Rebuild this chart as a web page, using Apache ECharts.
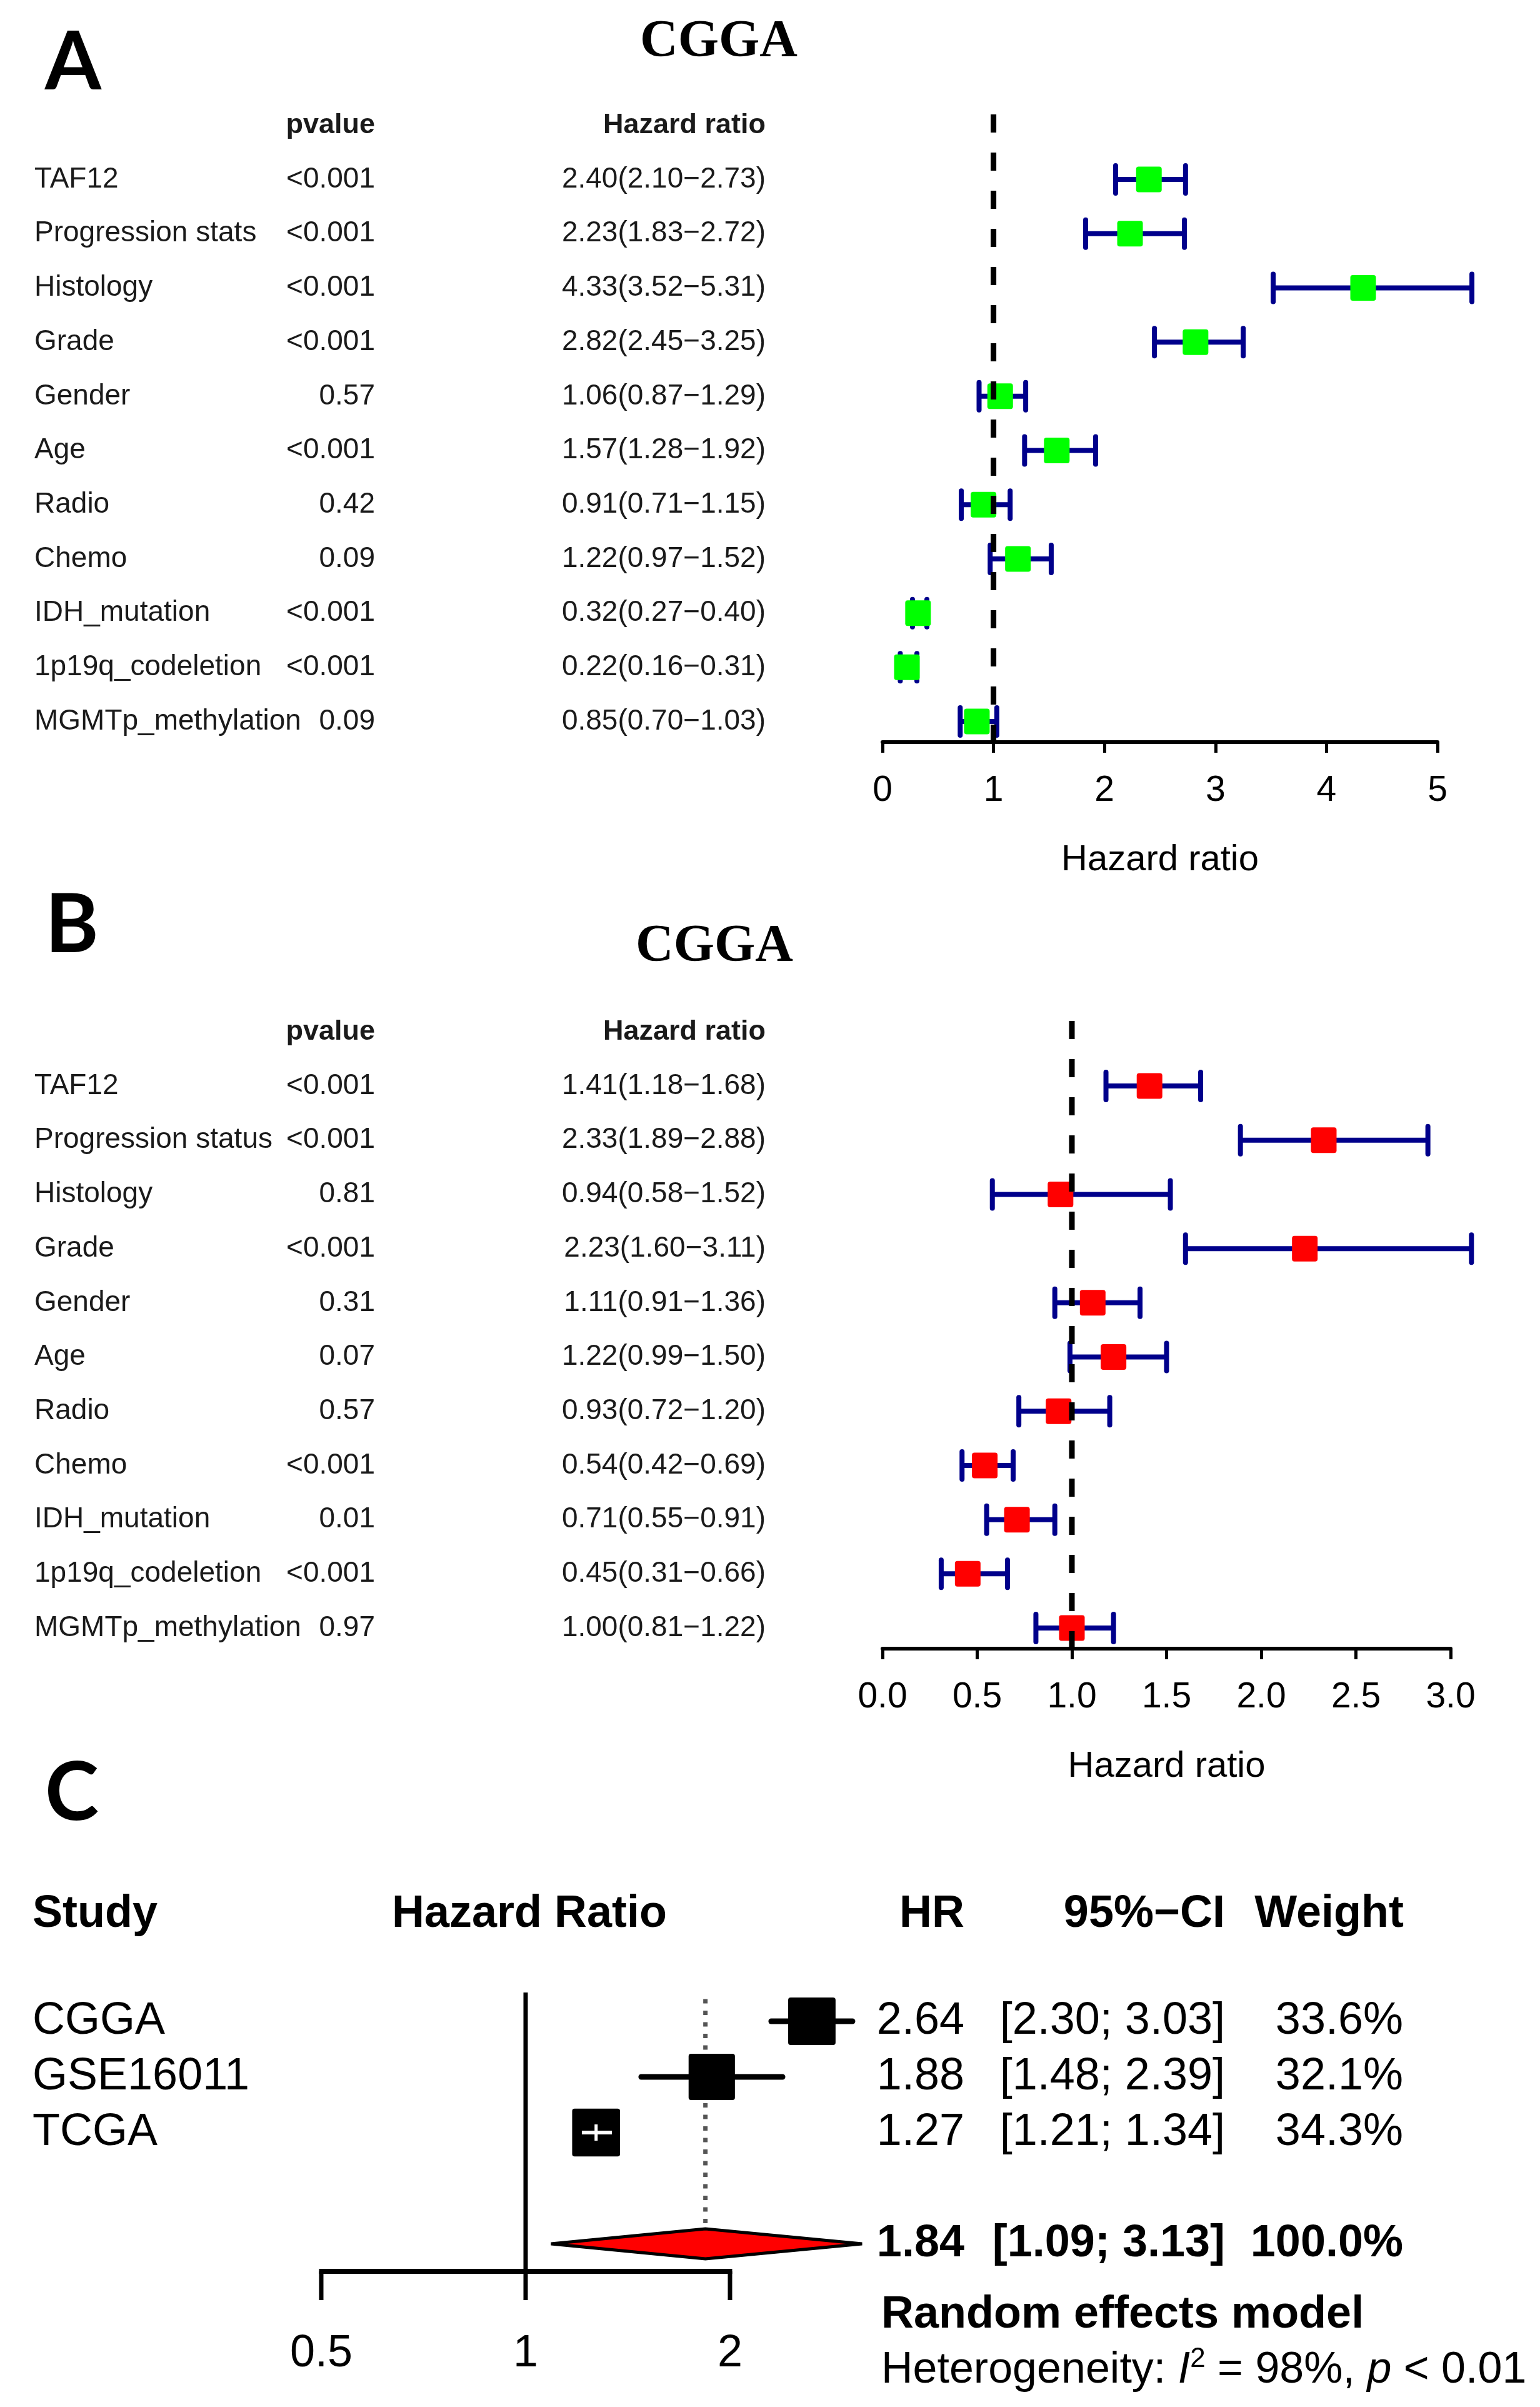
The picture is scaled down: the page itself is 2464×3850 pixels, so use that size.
<!DOCTYPE html>
<html>
<head>
<meta charset="utf-8">
<script src="https://cdn.jsdelivr.net/npm/echarts@6/dist/echarts.min.js"></script>
<style>html,body{margin:0;padding:0;background:#fff}#c{width:2464px;height:3850px}</style>
</head>
<body>
<div id="c"></div>
<script>
// ---------- DATA ----------
const rowsA = ['TAF12','Progression stats','Histology','Grade','Gender','Age','Radio','Chemo','IDH_mutation','1p19q_codeletion','MGMTp_methylation'];
const pA    = ['<0.001','<0.001','<0.001','<0.001','0.57','<0.001','0.42','0.09','<0.001','<0.001','0.09'];
const hrA   = [2.40,2.23,4.33,2.82,1.06,1.57,0.91,1.22,0.32,0.22,0.85];
const loA   = [2.10,1.83,3.52,2.45,0.87,1.28,0.71,0.97,0.27,0.16,0.70];
const hiA   = [2.73,2.72,5.31,3.25,1.29,1.92,1.15,1.52,0.40,0.31,1.03];
const ticksA = [0,1,2,3,4,5];

const rowsB = ['TAF12','Progression status','Histology','Grade','Gender','Age','Radio','Chemo','IDH_mutation','1p19q_codeletion','MGMTp_methylation'];
const pB    = ['<0.001','<0.001','0.81','<0.001','0.31','0.07','0.57','<0.001','0.01','<0.001','0.97'];
const hrB   = [1.41,2.33,0.94,2.23,1.11,1.22,0.93,0.54,0.71,0.45,1.00];
const loB   = [1.18,1.89,0.58,1.60,0.91,0.99,0.72,0.42,0.55,0.31,0.81];
const hiB   = [1.68,2.88,1.52,3.11,1.36,1.50,1.20,0.69,0.91,0.66,1.22];
const ticksB = [0,0.5,1,1.5,2,2.5,3];

const studiesC = ['CGGA','GSE16011','TCGA'];
const hrC   = [2.64,1.88,1.27];
const loC   = [2.30,1.48,1.21];
const hiC   = [3.03,2.39,1.34];
const wC    = [33.6,32.1,34.3];
const pooledC = [1.84,1.09,3.13,100.0]; // HR, lower, upper, weight
const ticksC = [0.5,1,2];
const hetText = ['98%','0.01'];

// ---------- HELPERS ----------
const FF = "'Liberation Sans', Arial, sans-serif";
const f2 = v => v.toFixed(2);
const hrStr = (h,l,u) => f2(h)+'('+f2(l)+'\u2212'+f2(u)+')';

const yRangeAB = {min:-1.2, max:10.38};
const yRangeC = {min:-0.517, max:4.494};
const xRef = [0, 0, 1];

function textSeries(gi, items) {
  return {
    type:'custom', xAxisIndex:gi, yAxisIndex:gi, clip:false, silent:true, z:6,
    data: items.map(it => [xRef[gi], it.row]),
    renderItem: (params, api) => {
      const it = items[params.dataIndex];
      const y = api.coord([api.value(0), api.value(1)])[1];
      const st = {text:it.text, x:it.x, y:y, textAlign:it.align, align:it.align,
        textVerticalAlign:'middle', verticalAlign:'middle', font:it.font, fill:it.color || '#000'};
      if (it.rich) st.rich = it.rich;
      return {type:'text', style:st};
    }
  };
}

function ciSeries(gi, lo, hi) {
  return {
    type:'custom', xAxisIndex:gi, yAxisIndex:gi, clip:false, silent:true, z:3,
    data: lo.map((l,i)=>[l, hi[i], i]),
    renderItem: (params, api) => {
      const i = api.value(2);
      const a = api.coord([api.value(0), i]);
      const b = api.coord([api.value(1), i]);
      const col = '#00008B', h = 22;
      return {type:'group', children:[
        {type:'line', shape:{x1:a[0],y1:a[1],x2:b[0],y2:b[1]}, style:{stroke:col,lineWidth:8}},
        {type:'line', shape:{x1:a[0],y1:a[1]-h,x2:a[0],y2:a[1]+h}, style:{stroke:col,lineWidth:8,lineCap:'round'}},
        {type:'line', shape:{x1:b[0],y1:b[1]-h,x2:b[0],y2:b[1]+h}, style:{stroke:col,lineWidth:8,lineCap:'round'}}
      ]};
    }
  };
}

function sqSeries(gi, hr, color) {
  return {
    type:'custom', xAxisIndex:gi, yAxisIndex:gi, clip:false, silent:true, z:4,
    data: hr.map((v,i)=>[v,i]),
    renderItem: (params, api) => {
      const p = api.coord([api.value(0), api.value(1)]);
      const s = 41;
      return {type:'rect', shape:{x:p[0]-s/2, y:p[1]-s/2, width:s, height:s, r:4}, style:{fill:color}};
    }
  };
}

function dashSeries(gi) {
  return {
    type:'custom', xAxisIndex:gi, yAxisIndex:gi, clip:false, silent:true, z:5,
    data:[[1]],
    renderItem: (params, api) => {
      const a = api.coord([api.value(0), yRangeAB.min]);
      const b = api.coord([api.value(0), yRangeAB.max]);
      return {type:'line', shape:{x1:a[0],y1:a[1],x2:b[0],y2:b[1]},
        style:{stroke:'#000', lineWidth:9, lineDash:[29,32]}};
    }
  };
}

function tableItems(rows, pv, hr, lo, hi) {
  const items = [];
  const fr = "46px " + FF, fb = "bold 45px " + FF, c = '#1a1a1a';
  items.push({row:-1, x:600, text:'pvalue', align:'right', font:fb, color:c});
  items.push({row:-1, x:1225, text:'Hazard ratio', align:'right', font:fb, color:c});
  rows.forEach((r,i)=>{
    items.push({row:i, x:55, text:r, align:'left', font:fr, color:c});
    items.push({row:i, x:600, text:pv[i], align:'right', font:fr, color:c});
    items.push({row:i, x:1225, text:hrStr(hr[i],lo[i],hi[i]), align:'right', font:fr, color:c});
  });
  return items;
}

function xAxisAB(gi, min, max, interval, ticks, fmt) {
  return {
    type:'value', gridIndex:gi, min:min, max:max, interval:interval, position:'bottom',
    splitLine:{show:false},
    axisLine:{show:true, onZero:false, lineStyle:{color:'#000', width:6}},
    axisTick:{show:true, length:17, lineStyle:{color:'#000', width:5}, customValues:ticks},
    axisLabel:{show:true, fontSize:57, fontFamily:FF, color:'#000', margin:50, formatter:fmt, customValues:ticks},
    name:'Hazard ratio', nameLocation:'middle', nameGap:160,
    nameTextStyle:{fontSize:58, fontFamily:FF, color:'#000'}
  };
}

// ---------- PANEL C items ----------
const fC = "72px " + FF, fCb = "bold 72px " + FF;
const itemsC = [];
itemsC.push({row:-1.92, x:52, text:'Study', align:'left', font:fCb});
itemsC.push({row:-1.92, x:847, text:'Hazard Ratio', align:'center', font:fCb});
itemsC.push({row:-1.92, x:1543, text:'HR', align:'right', font:fCb});
itemsC.push({row:-1.92, x:1960, text:'95%\u2212CI', align:'right', font:fCb});
itemsC.push({row:-1.92, x:2246, text:'Weight', align:'right', font:fCb});
studiesC.forEach((s,i)=>{
  itemsC.push({row:i, x:52, text:s, align:'left', font:fC});
  itemsC.push({row:i, x:1543, text:f2(hrC[i]), align:'right', font:fC});
  itemsC.push({row:i, x:1960, text:'['+f2(loC[i])+'; '+f2(hiC[i])+']', align:'right', font:fC});
  itemsC.push({row:i, x:2245, text:wC[i].toFixed(1)+'%', align:'right', font:fC});
});
itemsC.push({row:4, x:1543, text:f2(pooledC[0]), align:'right', font:fCb});
itemsC.push({row:4, x:1960, text:'['+f2(pooledC[1])+'; '+f2(pooledC[2])+']', align:'right', font:fCb});
itemsC.push({row:4, x:2245, text:pooledC[3].toFixed(1)+'%', align:'right', font:fCb});
itemsC.push({row:5.28, x:1410, text:'Random effects model', align:'left', font:fCb});
itemsC.push({row:6.28, x:1410, align:'left', font:"70px "+FF,
  text:'{n|Heterogeneity: }{i|I}{s|2}{n| = '+hetText[0]+', }{i|p}{n| < '+hetText[1]+'}',
  rich:{
    n:{fontSize:70, fontFamily:FF, color:'#000', lineHeight:80},
    i:{fontSize:70, fontFamily:FF, fontStyle:'italic', color:'#000', lineHeight:80},
    s:{fontSize:44, fontFamily:FF, color:'#000', verticalAlign:'top', lineHeight:44}
  }});

const seriesC = [
  // solid reference line at 1
  {type:'custom', xAxisIndex:2, yAxisIndex:2, clip:false, silent:true, z:2, data:[[1]],
    renderItem:(params, api)=>{
      const a = api.coord([api.value(0), yRangeC.min]);
      const b = api.coord([api.value(0), yRangeC.max]);
      return {type:'line', shape:{x1:a[0],y1:a[1],x2:b[0],y2:b[1]}, style:{stroke:'#000', lineWidth:7}};
    }},
  // dotted pooled line
  {type:'custom', xAxisIndex:2, yAxisIndex:2, clip:false, silent:true, z:2, data:[[pooledC[0]]],
    renderItem:(params, api)=>{
      const a = api.coord([api.value(0), -0.40]);
      const b = api.coord([api.value(0), 3.72]);
      return {type:'line', shape:{x1:a[0],y1:a[1],x2:b[0],y2:b[1]}, style:{stroke:'#555', lineWidth:7, lineDash:[7,11.5]}};
    }},
  // axis line, ticks, labels
  {type:'custom', xAxisIndex:2, yAxisIndex:2, clip:false, silent:true, z:3, data:ticksC.map(t=>[t]),
    renderItem:(params, api)=>{
      const p = api.coord([api.value(0), yRangeC.max]);
      const ch = [
        {type:'line', shape:{x1:p[0],y1:p[1],x2:p[0],y2:p[1]+46}, style:{stroke:'#000', lineWidth:7}},
        {type:'text', style:{text:String(ticksC[params.dataIndex]), x:p[0], y:p[1]+132, textAlign:'center', align:'center',
          textVerticalAlign:'middle', verticalAlign:'middle', font:fC, fill:'#000'}}
      ];
      if (params.dataIndex === 0) {
        const q = api.coord([ticksC[ticksC.length-1], yRangeC.max]);
        ch.push({type:'line', shape:{x1:p[0]-3.5,y1:p[1],x2:q[0]+3.5,y2:q[1]}, style:{stroke:'#000', lineWidth:8}});
      }
      return {type:'group', children:ch};
    }},
  // study squares + CIs
  {type:'custom', xAxisIndex:2, yAxisIndex:2, clip:false, silent:true, z:4,
    data: hrC.map((h,i)=>[h, loC[i], hiC[i], i, wC[i]]),
    renderItem:(params, api)=>{
      const i = api.value(3);
      const c = api.coord([api.value(0), i]);
      const a = api.coord([api.value(1), i]);
      const b = api.coord([api.value(2), i]);
      const s = 75.5 * Math.sqrt(api.value(4) / 33.3);
      const inside = a[0] > c[0]-s/2 && b[0] < c[0]+s/2;
      const ch = [];
      ch.push({type:'line', shape:{x1:a[0],y1:a[1],x2:b[0],y2:b[1]}, style:{stroke:'#000', lineWidth:9, lineCap:'round'}});
      ch.push({type:'rect', shape:{x:c[0]-s/2, y:c[1]-s/2, width:s, height:s, r:4}, style:{fill:'#000'}});
      if (inside) {
        ch.push({type:'line', shape:{x1:a[0],y1:a[1],x2:b[0],y2:b[1]}, style:{stroke:'#fff', lineWidth:6}});
        ch.push({type:'line', shape:{x1:c[0],y1:c[1]-13,x2:c[0],y2:c[1]+13}, style:{stroke:'#fff', lineWidth:5}});
      }
      return {type:'group', children:ch};
    }},
  // pooled diamond
  {type:'custom', xAxisIndex:2, yAxisIndex:2, clip:false, silent:true, z:4,
    data:[[pooledC[0], pooledC[1], pooledC[2], 4]],
    renderItem:(params, api)=>{
      const r = api.value(3);
      const c = api.coord([api.value(0), r]);
      const a = api.coord([api.value(1), r]);
      const b = api.coord([api.value(2), r]);
      const h = 24;
      return {type:'polygon', shape:{points:[[a[0],a[1]],[c[0],c[1]-h],[b[0],b[1]],[c[0],c[1]+h]]},
        style:{fill:'#FF0000', stroke:'#000', lineWidth:5}};
    }},
  textSeries(2, itemsC)
];

// ---------- OPTION ----------
const option = {
  backgroundColor:'#fff',
  animation:false,
  grid:[
    {left:1412, top:183, width:888, height:1004},
    {left:1412, top:1633, width:909, height:1004},
    {left:514, top:3187, width:981, height:446}
  ],
  xAxis:[
    xAxisAB(0, 0, 5, 1, ticksA, v => String(v)),
    xAxisAB(1, 0, 3, 0.5, ticksB, v => Number(v).toFixed(1)),
    {type:'log', logBase:2, gridIndex:2, min:0.5, max:4, show:false}
  ],
  yAxis:[
    {type:'value', gridIndex:0, inverse:true, min:yRangeAB.min, max:yRangeAB.max, show:false},
    {type:'value', gridIndex:1, inverse:true, min:yRangeAB.min, max:yRangeAB.max, show:false},
    {type:'value', gridIndex:2, inverse:true, min:yRangeC.min, max:yRangeC.max, show:false}
  ],
  graphic:[
    {type:'text', x:117, y:101, style:{text:'A', font:"bold 130px Lato, 'Liberation Sans', sans-serif", fill:'#000', textAlign:'center', align:'center', textVerticalAlign:'middle', verticalAlign:'middle'}},
    {type:'text', x:115, y:1481, style:{text:'B', font:"bold 130px Lato, 'Liberation Sans', sans-serif", fill:'#000', textAlign:'center', align:'center', textVerticalAlign:'middle', verticalAlign:'middle'}},
    {type:'text', x:115, y:2869, style:{text:'C', font:"bold 130px Lato, 'Liberation Sans', sans-serif", fill:'#000', textAlign:'center', align:'center', textVerticalAlign:'middle', verticalAlign:'middle'}},
    {type:'text', x:1150, y:68, style:{text:'CGGA', font:"bold 84px 'Liberation Serif', 'Times New Roman', serif", fill:'#000', textAlign:'center', align:'center', textVerticalAlign:'middle', verticalAlign:'middle'}},
    {type:'text', x:1143, y:1515, style:{text:'CGGA', font:"bold 84px 'Liberation Serif', 'Times New Roman', serif", fill:'#000', textAlign:'center', align:'center', textVerticalAlign:'middle', verticalAlign:'middle'}}
  ],
  series:[
    ciSeries(0, loA, hiA), sqSeries(0, hrA, '#00FF00'), dashSeries(0), textSeries(0, tableItems(rowsA, pA, hrA, loA, hiA)),
    ciSeries(1, loB, hiB), sqSeries(1, hrB, '#FF0000'), dashSeries(1), textSeries(1, tableItems(rowsB, pB, hrB, loB, hiB)),
    ...seriesC
  ]
};
const chart = echarts.init(document.getElementById('c'));
chart.setOption(option);
</script>
</body>
</html>
